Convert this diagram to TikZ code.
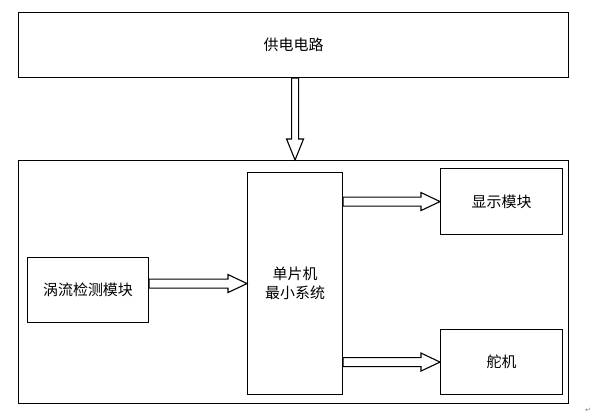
\documentclass[tikz,border=0pt]{standalone}
\usepackage{fontspec}
\newfontfamily\cjk{Noto Sans CJK SC}
\newfontfamily\dejavu{DejaVu Sans}
\usetikzlibrary{calc}
\tikzset{
  blk/.style={draw=black, line width=1.1bp, inner sep=0pt, anchor=north west,
    font=\cjk\fontsize{15}{19}\selectfont, align=center},
  fatarrow/.style={draw=black, line width=1.1bp, fill=white, line join=miter},
}
\newcommand\harrow[2]{%
  \draw[fatarrow] let \p1=(#1), \p2=(#2) in
    (\x1,\y1+4.5bp) -- (\x2-19bp,\y1+4.5bp) -- (\x2-19bp,\y1+9bp) -- (\x2,\y1)
    -- (\x2-19bp,\y1-9bp) -- (\x2-19bp,\y1-4.5bp) -- (\x1,\y1-4.5bp) -- cycle;}
\newcommand\varrow[2]{%
  \draw[fatarrow] let \p1=(#1), \p2=(#2) in
    (\x1-3.5bp,\y1) -- (\x1-3.5bp,\y2+21bp) -- (\x1-8.5bp,\y2+21bp) -- (\x1,\y2)
    -- (\x1+8.5bp,\y2+21bp) -- (\x1+3.5bp,\y2+21bp) -- (\x1+3.5bp,\y1) -- cycle;}
\begin{document}
\begin{tikzpicture}[x=1bp, y=-1bp]
\useasboundingbox (0,0) rectangle (599,418);
\node[blk, minimum width=550bp, minimum height=65bp] (power) at (18,12) {供电电路};
\node[blk, minimum width=550bp, minimum height=243bp] (outer) at (18,160) {};
\node[blk, minimum width=95bp, minimum height=222bp] (mcu) at (247,172) {单片机\\最小系统};
\node[blk, minimum width=121bp, minimum height=65bp] (eddy) at (27,257) {涡流检测模块};
\node[blk, minimum width=122bp, minimum height=66bp] (disp) at (440,168) {显示模块};
\node[blk, minimum width=122bp, minimum height=65bp] (servo) at (440,329) {舵机};
\varrow{power.south -| mcu.north}{outer.north -| mcu.north}
\harrow{eddy.east |- mcu.west}{mcu.west}
\harrow{mcu.east |- disp.west}{disp.west}
\harrow{mcu.east |- servo.west}{servo.west}
\node[font=\dejavu\fontsize{7}{8}\selectfont, text=gray, inner sep=0pt] (mark) at (588,410) {↵};
\end{tikzpicture}
\end{document}
